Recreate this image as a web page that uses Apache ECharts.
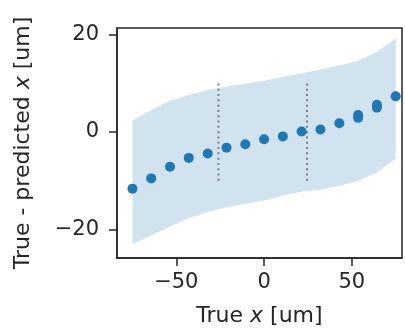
<!DOCTYPE html>
<html>
<head>
<meta charset="utf-8">
<script src="https://cdn.jsdelivr.net/npm/echarts@6/dist/echarts.min.js"></script>
<style>
  html, body { margin: 0; padding: 0; background: #fff; }
  #chart { width: 405px; height: 332px; }
</style>
</head>
<body>
<div id="chart"></div>
<script>
// 数据
const trueX = [-75, -64.3, -53.6, -42.9, -32.1, -21.4, -10.7, 0, 10.7, 21.4, 32.1, 42.9, 53.6, 64.3, 75]
const residual = [-11.6, -9.5, -7.1, -5.3, -4.4, -3.2, -2.5, -1.5, -0.9, 0.1, 0.5, 1.8, 2.9, 5.0, 7.3]
const extraX = [53.6, 64.3]
const extraResidual = [3.5, 5.6]
const bandUpper = [2.4, 4.5, 6.4, 7.6, 8.6, 9.3, 9.9, 10.5, 11.3, 12.0, 12.8, 13.6, 14.6, 16.4, 19.2]
const bandLower = [-23.0, -21.2, -19.4, -17.6, -16.4, -15.4, -14.7, -14.0, -13.0, -12.2, -11.8, -11.0, -10.0, -8.3, -5.4]
const vlineX = [-26, 24.5]
const vlineY = [-10, 10]
const xTicks = [-50, 0, 50]
const yTicks = [-20, 0, 20]

const FONT = 'DejaVu Sans'
const TEXT = '#262626'
const BLUE = '#1f77b4'

const fmt = v => (v < 0 ? '\u2212' + (-v) : String(v))

const chart = echarts.init(document.getElementById('chart'))

const pointData = trueX.map((x, i) => [x, residual[i]])
  .concat(extraX.map((x, i) => [x, extraResidual[i]]))

const axisCommon = {
  type: 'value',
  axisLine: { show: true, onZero: false, lineStyle: { color: TEXT, width: 1.5 } },
  axisTick: { show: true, length: 8, lineStyle: { color: TEXT, width: 1.5 } },
  splitLine: { show: false },
  nameLocation: 'middle',
  nameTextStyle: {
    fontFamily: FONT, fontSize: 22, color: TEXT,
    rich: { i: { fontFamily: FONT, fontSize: 22, color: TEXT, fontStyle: 'italic' } }
  }
}

const option = {
  animation: false,
  grid: {
    left: 117, right: 3, top: 28, bottom: 74,
    show: true, borderColor: TEXT, borderWidth: 1.5, backgroundColor: 'transparent'
  },
  xAxis: Object.assign({}, axisCommon, {
    min: -83.8,
    max: 78.6,
    name: 'True {i|x} [um]',
    nameGap: 47,
    axisTick: Object.assign({}, axisCommon.axisTick, { customValues: xTicks }),
    axisLabel: {
      customValues: xTicks, formatter: fmt, margin: 14,
      fontFamily: FONT, fontSize: 21, color: TEXT
    }
  }),
  yAxis: Object.assign({}, axisCommon, {
    min: -25.8,
    max: 21.3,
    name: 'True - predicted {i|x} [um]',
    nameGap: 83,
    axisTick: Object.assign({}, axisCommon.axisTick, { customValues: yTicks }),
    axisLabel: {
      customValues: yTicks, formatter: fmt, margin: 18,
      fontFamily: FONT, fontSize: 21, color: TEXT
    }
  }),
  series: [
    {
      // 置信带
      type: 'custom',
      data: trueX.map((x, i) => [x, bandLower[i], bandUpper[i]]),
      z: 1,
      renderItem: (params, api) => {
        if (params.dataIndex !== 0) return
        const pts = []
        for (let i = 0; i < trueX.length; i++) pts.push(api.coord([trueX[i], bandUpper[i]]))
        for (let i = trueX.length - 1; i >= 0; i--) pts.push(api.coord([trueX[i], bandLower[i]]))
        return {
          type: 'polygon',
          shape: { points: pts },
          style: { fill: '#d2e3f0' },
          silent: true
        }
      }
    },
    ...vlineX.map(x => ({
      type: 'line',
      data: vlineY.map(y => [x, y]),
      symbol: 'none',
      z: 2,
      lineStyle: { color: '#7f7f7f', width: 2, type: [2, 3.3] }
    })),
    {
      type: 'scatter',
      data: pointData,
      symbolSize: 10,
      z: 3,
      itemStyle: { color: BLUE, opacity: 1 }
    }
  ]
}

chart.setOption(option)
</script>
</body>
</html>
